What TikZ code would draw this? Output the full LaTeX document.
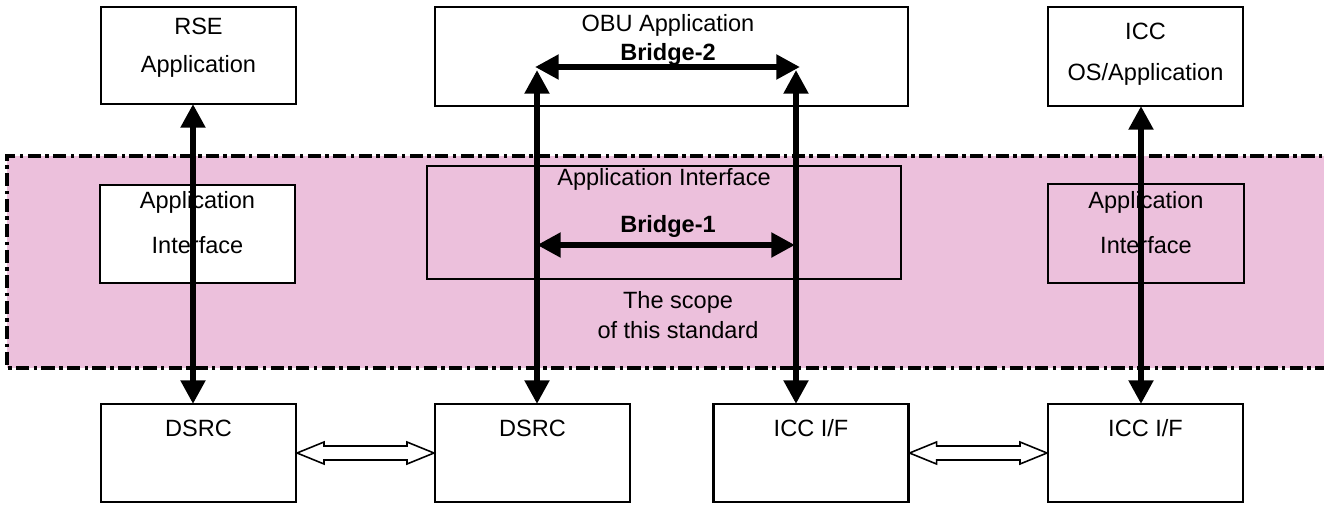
\documentclass[tikz,border=0pt]{standalone}
\usepackage{fontspec}
\setmainfont{Liberation Sans}
\usetikzlibrary{arrows.meta,calc}
\definecolor{scopepink}{RGB}{236,192,220}
\begin{document}
\begin{tikzpicture}[x=0.02cm,y=-0.02cm,
  box/.style={draw=black,line width=1.2pt,minimum width=3.9cm,minimum height=1.96cm,inner sep=0pt},
  thinbox/.style={draw=black,line width=0.7pt,inner sep=0pt},
  lbl/.style={font=\fontsize{13.4}{16}\selectfont,inner sep=0pt,anchor=center},
  blbl/.style={font=\fontsize{13.4}{16}\selectfont\bfseries,inner sep=0pt,anchor=center},
  bigarrow/.style={line width=3.4pt,{Triangle[width=13.5pt,length=13.5pt]}-{Triangle[width=13.5pt,length=13.5pt]}},
  hollow/.style={draw=black,line width=0.9pt,fill=white,line join=miter},
  scopeline/.style={draw=black,line width=2pt,dash pattern=on 7.5pt off 2.5pt on 2pt off 2.5pt}
]
\useasboundingbox (0,0) rectangle (1324,504);
% scope band
\fill[scopepink] (7,156) rectangle (1324,368);
\draw[scopeline] (1340,156) -- (7,156) -- (7,368) -- (1340,368);

% top boxes
\node[box,minimum width=3.9cm,minimum height=1.94cm] (rse) at (198.5,55.5) {};
\node[box,minimum width=9.46cm,minimum height=1.98cm] (obu) at (671.5,56.5) {};
\node[box,minimum width=3.9cm,minimum height=1.98cm] (icc) at (1145.5,56.5) {};
\node[lbl] (rset1) at (198.5,26) {RSE};
\node[lbl] (rset2) at (198.5,66) {Application};
\node[lbl] (obut) at (668,25) {OBU Application};
\node[blbl] (br2) at (668,54) {Bridge-2};
\node[lbl] (icct1) at (1145.5,31) {ICC};
\node[lbl] (icct2) at (1145.5,74) {OS/Application};

% application interfaces
\node[thinbox,fill=white,minimum width=3.9cm,minimum height=1.96cm] (ai1) at (197.5,234) {};
\node[thinbox,minimum width=9.48cm,minimum height=2.26cm] (ai2) at (664,222.5) {};
\node[thinbox,minimum width=3.92cm,minimum height=1.98cm] (ai3) at (1146,233.5) {};
\node[lbl] (ai1t1) at (197.5,202) {Application};
\node[lbl] (ai1t2) at (197.5,245) {Interface};
\node[lbl] (ai2t) at (664,179) {Application Interface};
\node[blbl] (br1) at (668,226) {Bridge-1};
\node[lbl] (ai3t1) at (1146,202) {Application};
\node[lbl] (ai3t2) at (1146,245) {Interface};
\node[lbl] (sc1) at (678,302) {The scope};
\node[lbl] (sc2) at (678,330) {of this standard};

% bottom boxes
\node[box] (d1) at (198.5,453) {};
\node[box] (d2) at (532.5,453) {};
\node[box] (i1) at (811,453) {};
\node[box] (i2) at (1145.5,453) {};
\node[lbl] (d1t) at (198.5,428) {DSRC};
\node[lbl] (d2t) at (532.5,428) {DSRC};
\node[lbl] (i1t) at (811,428) {ICC I/F};
\node[lbl] (i2t) at (1145.5,428) {ICC I/F};

% coordinates for arrow ends
\coordinate (a1t) at (193,104);
\coordinate (a1b) at (193,404);
\coordinate (a2t) at (537,70);
\coordinate (a2b) at (537,404);
\coordinate (a3t) at (796,70);
\coordinate (a3b) at (796,404);
\coordinate (a4t) at (1141,106);
\coordinate (a4b) at (1141,404);
\coordinate (b2l) at (535,67);
\coordinate (b2r) at (800,67);
\coordinate (b1l) at (537,245);
\coordinate (b1r) at (795,245);

\draw[bigarrow] (a1t) -- (a1b);
\draw[bigarrow] (a2t) -- (a2b);
\draw[bigarrow] (a3t) -- (a3b);
\draw[bigarrow] (a4t) -- (a4b);
\draw[bigarrow] (b2l) -- (b2r);
\draw[bigarrow] (b1l) -- (b1r);

% hollow double arrows
\draw[hollow] (d1.east) -- ++(27,-11) -- ++(0,4) -- ($(d2.west)+(-27,-7)$) -- ++(0,-4) -- (d2.west)
  -- ++(-27,11) -- ++(0,-4) -- ($(d1.east)+(27,7)$) -- ++(0,4) -- cycle;
\draw[hollow] (i1.east) -- ++(27,-11) -- ++(0,4) -- ($(i2.west)+(-27,-7)$) -- ++(0,-4) -- (i2.west)
  -- ++(-27,11) -- ++(0,-4) -- ($(i1.east)+(27,7)$) -- ++(0,4) -- cycle;
\end{tikzpicture}
\end{document}
